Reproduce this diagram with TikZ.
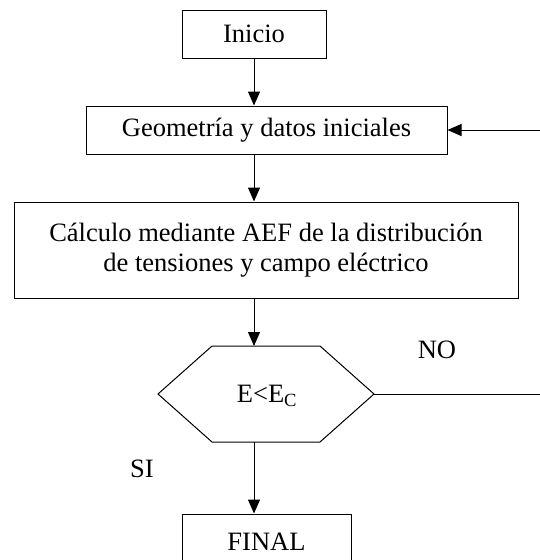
\documentclass[tikz,border=0pt]{standalone}
\usepackage{fontspec}
\setmainfont{Liberation Serif}
\usetikzlibrary{arrows.meta}

\begin{document}
\begin{tikzpicture}[x=1pt,y=1pt,
    caja/.style={draw,line width=1pt,inner sep=0pt,align=center},
    flecha/.style={line width=1pt,-{Triangle[length=14pt,width=12pt]}},
    linea/.style={line width=1pt}]
    \useasboundingbox (0,0) rectangle (540,-560);
    \fontsize{26.5}{30}\selectfont

    \node[caja,minimum width=144,minimum height=48] (inicio) at (254,-34) {Inicio};
    \node[caja,minimum width=361,minimum height=48] (geo) at (266.5,-130) {Geometría y datos iniciales};
    \node[caja,minimum width=504,minimum height=96] (calc) at (266,-250) {Cálculo mediante AEF de la distribución\\de tensiones y campo eléctrico};

    % rombo de decision (hexagono)
    \draw[linea] (158,-394) -- (212,-346) -- (320,-346) -- (374,-394) -- (320,-442) -- (212,-442) -- cycle;
    \node[inner sep=0pt] (cond) at (267,-396) {E<E\textsubscript{C}};
    \coordinate (condN) at (254,-346);
    \coordinate (condS) at (254,-442);
    \coordinate (condE) at (374,-394);

    \node[caja,minimum width=169,minimum height=56] (final) at (266.5,-542) {FINAL};

    \node[inner sep=0pt] (no) at (437,-350) {NO};
    \node[inner sep=0pt] (si) at (142,-469) {SI};

    \coordinate (retNO) at (540,-394);
    \coordinate (retGeo) at (540,-130);

    \draw[flecha] (inicio.south) -- (inicio.south |- geo.north);
    \draw[flecha] (geo.south -| inicio.south) -- (calc.north -| inicio.south);
    \draw[flecha] (calc.south -| condN) -- (condN);
    \draw[flecha] (condS) -- (condS |- final.north);
    \draw[linea] (condE) -- (retNO);
    \draw[flecha] (retGeo) -- (geo.east);
\end{tikzpicture}
\end{document}
